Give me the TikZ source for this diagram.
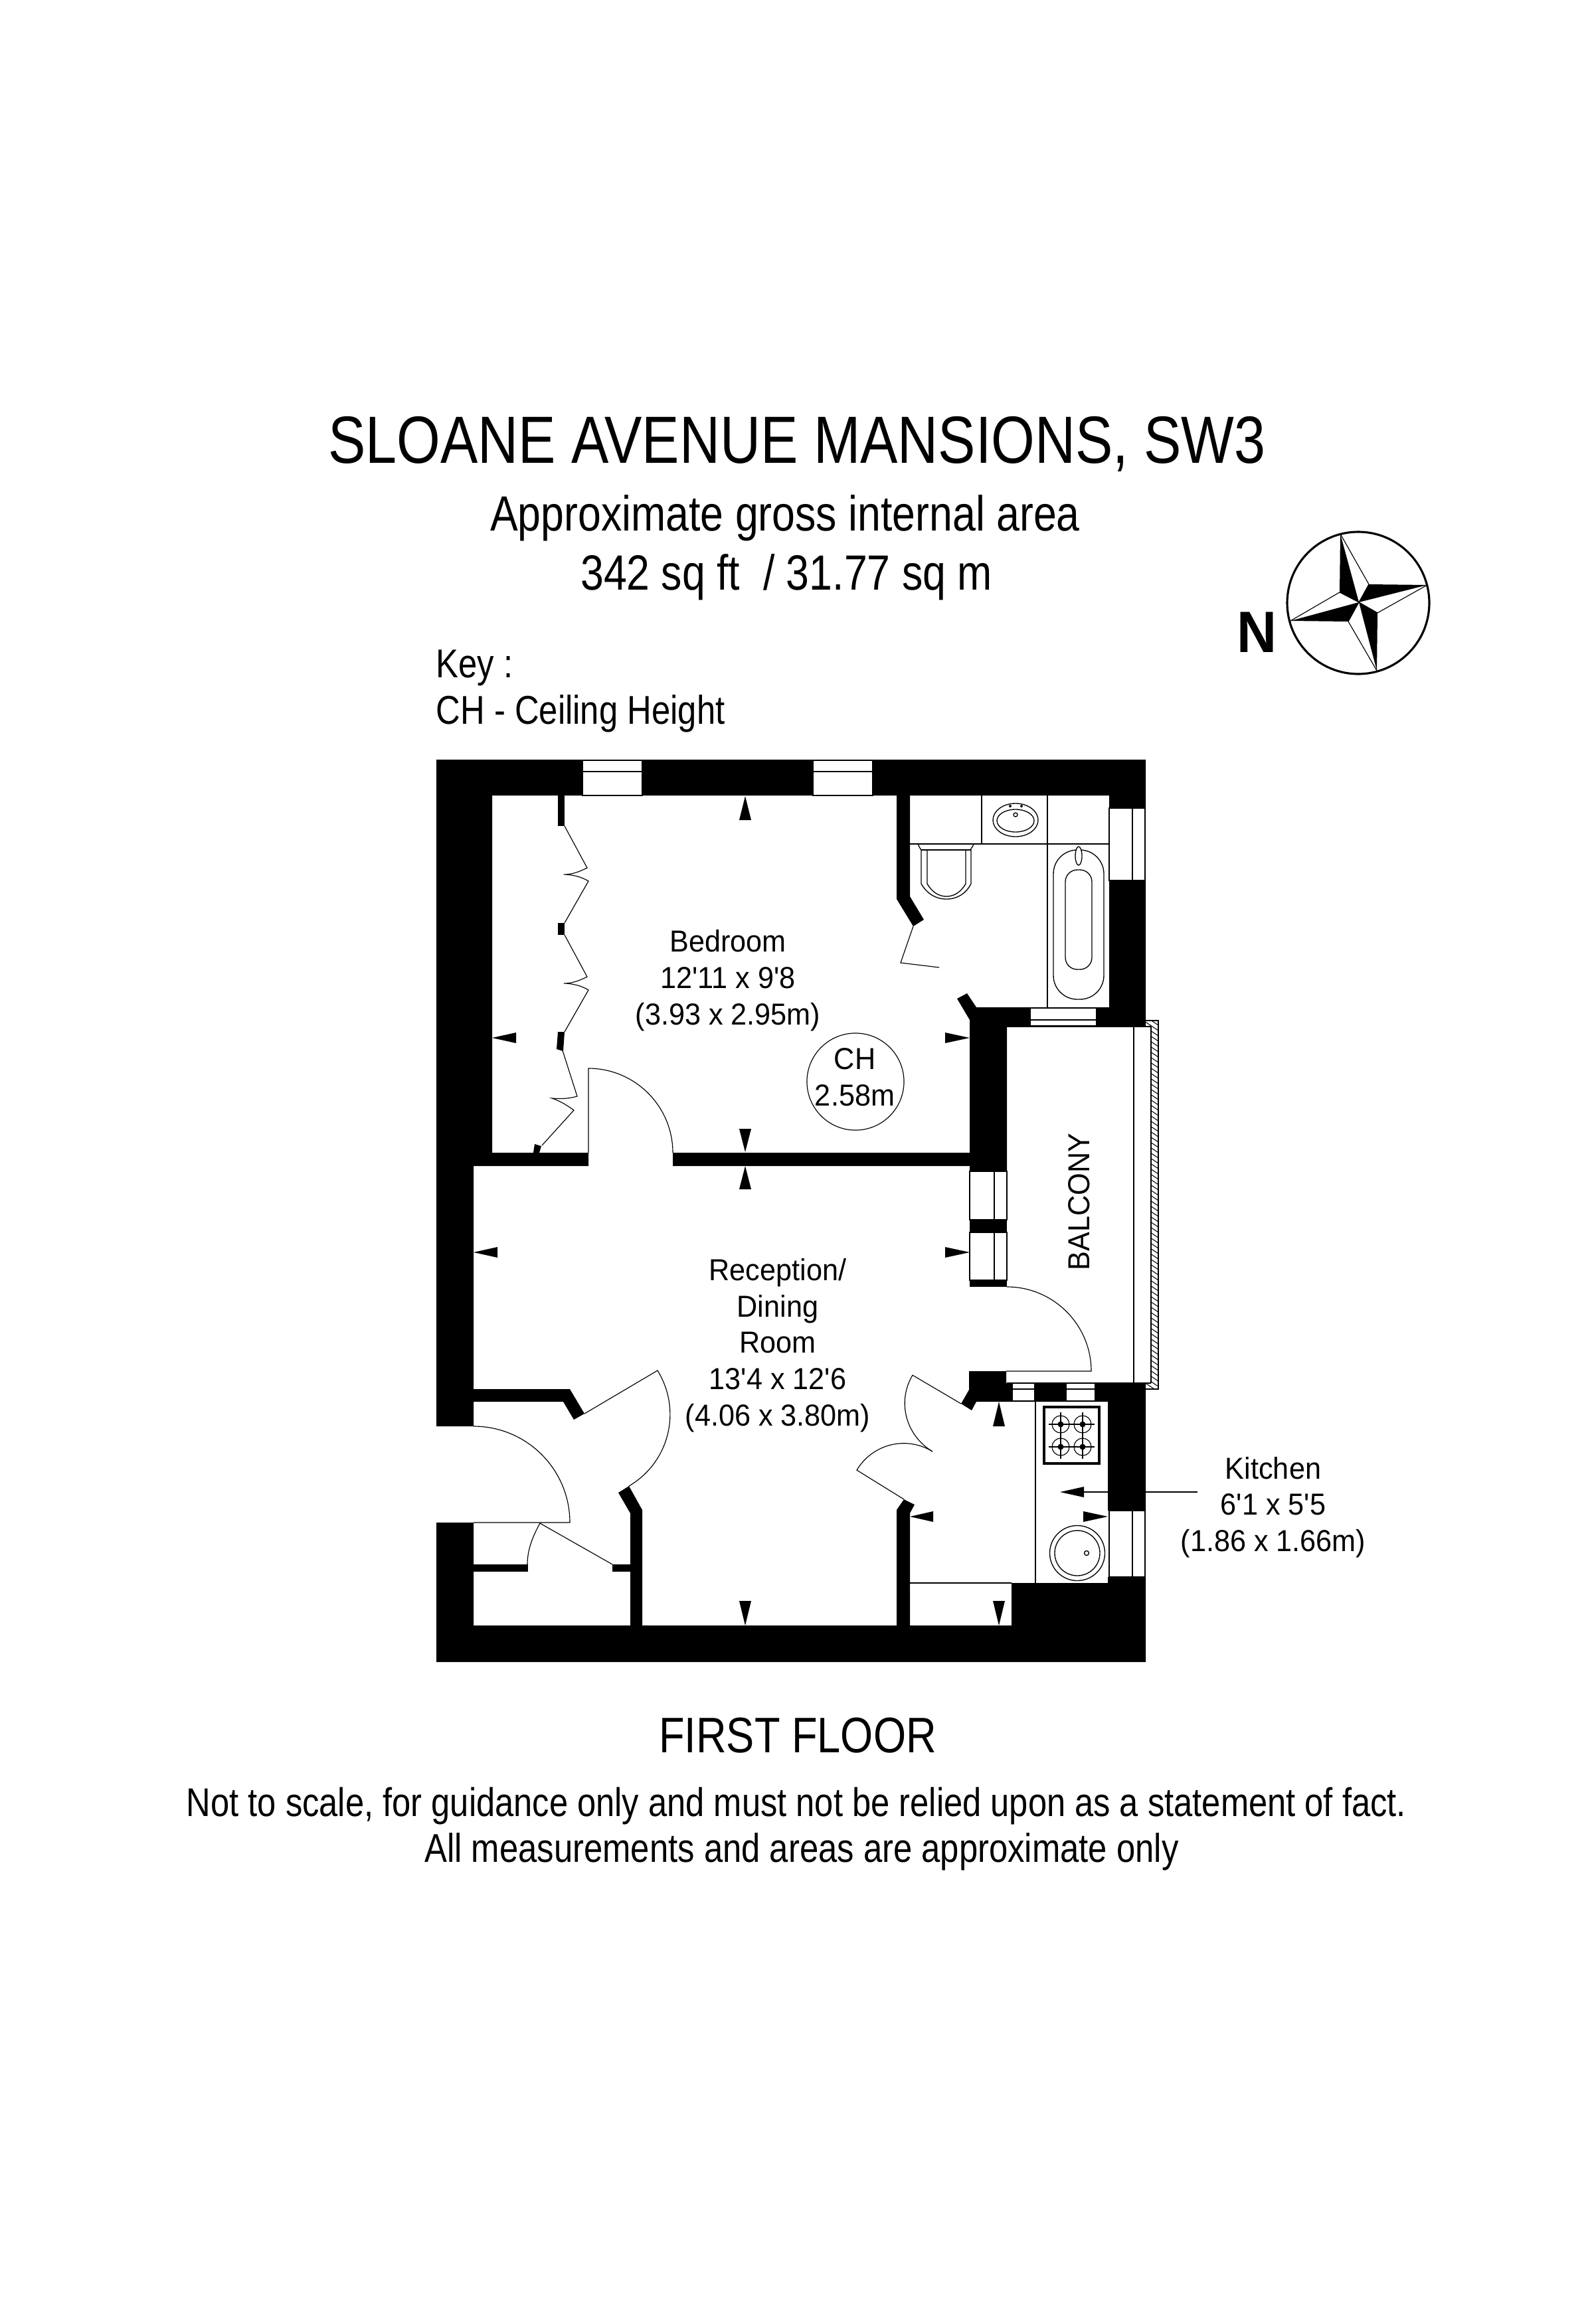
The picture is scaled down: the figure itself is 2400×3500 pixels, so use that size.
\documentclass[tikz,border=0pt]{standalone}
\usepackage{fontspec}
\setmainfont[FakeStretch=0.945]{Liberation Sans}
\newfontfamily\headfont[FakeStretch=0.84]{Liberation Sans}
\newcommand{\ft}{\textquotesingle}
\usetikzlibrary{positioning}
\tikzset{
  wall/.style={fill=black,draw=none},
  glazing/.style={fill=white,draw=black,line width=0.4pt},
  thin line/.style={draw=black,line width=0.33pt},
  fitting/.style={draw=black,line width=0.38pt},
  label/.style={align=center,inner sep=0pt,font=\fontsize{13}{15.6}\selectfont},
  heading/.style={inner sep=0pt,font=\headfont\fontsize{#1}{1.2em}\selectfont},
}
\begin{document}
\begin{tikzpicture}[x=0.01cm,y=-0.01cm]
   \useasboundingbox (0,0) rectangle (2400,3500);

   % headings
   \node[heading=28.6] (title) at (1200,669) {SLOANE AVENUE MANSIONS, SW3};
   \node[heading=21.2] (area) at (1182,780) {Approximate gross internal area};
   \node[heading=21.2] (size) at (1184,869) {342 sq ft~ / 31.77 sq m};
   \node[heading=17.2,anchor=west] (key) at (656,1006) {Key :};
   \node[heading=17.2,anchor=west] (keych) at (656,1075) {CH - Ceiling Height};

   % compass
   \node[inner sep=0pt,font=\fontsize{25}{30}\bfseries\selectfont] (north) at (1892,952) {N};
   \draw[line width=0.9pt] (2045,908) circle[radius=107];
   \fill (2018,804) -- (2017,892) -- (2046,907) -- cycle;
   \fill (2149,881) -- (2061,880) -- (2046,907) -- cycle;
   \fill (2073,1010) -- (2074,923) -- (2046,907) -- cycle;
   \fill (1943,935) -- (2030,936) -- (2046,907) -- cycle;
   \draw[thin line] (2018,804) -- (2061,880) -- (2046,907)
     (2149,881) -- (2074,923) -- (2046,907)
     (2073,1010) -- (2030,936) -- (2046,907)
     (1943,935) -- (2017,892) -- (2046,907);

   % balcony rail, under the walls
   \begin{scope}
     \clip (1733,1537) rectangle (1744,2092) (1725,1537) rectangle (1733,1546) (1725,2083) rectangle (1733,2092);
     \foreach \y in {1520,1528,...,2100}
       \draw[line width=0.3pt] (1720,\y) -- (1750,\y+20);
   \end{scope}
   \draw[thin line] (1725,1537) -- (1744,1537) -- (1744,2092) -- (1725,2092)
     (1733,1546) -- (1733,2083) (1707,1546) -- (1707,2083) (1516,1546) -- (1733,1546) (1516,2083) -- (1733,2083);

   % kitchen leader, runs behind the wall
   \coordinate (leadbase) at (1632,2247);
   \coordinate (leadend) at (1803,2247);
   \draw[thin line] (leadbase) -- (leadend);

   % walls
   \fill[wall] (657,1144) -- (1725,1144) -- (1725,1217) -- (1670,1217) -- (1670,1198) -- (1370,1198)
     -- (1370,1350) -- (1391,1385) -- (1375,1395) -- (1350,1354) -- (1350,1198) -- (741,1198)
     -- (741,1736) -- (886,1736) -- (886,1756) -- (713,1756) -- (713,2092) -- (858,2092)
     -- (880,2129) -- (864,2138) -- (848,2111) -- (713,2111) -- (713,2148) -- (657,2148) -- cycle;
   \fill[wall] (1013,1736) -- (1460,1736) -- (1460,1536) -- (1441,1504) -- (1456,1496) -- (1470,1517)
     -- (1670,1517) -- (1670,1326) -- (1725,1326) -- (1725,1545) -- (1516,1545) -- (1516,1764)
     -- (1460,1764) -- (1460,1756) -- (1013,1756) -- cycle;
   \fill[wall] (1460,1764) rectangle (1516,1938);
   \fill[wall] (1459,2065) -- (1515,2065) -- (1515,2083) -- (1725,2083) -- (1725,2275) -- (1668,2275)
     -- (1668,2111) -- (1470,2111) -- (1463,2124) -- (1447,2114) -- (1459,2093) -- cycle;
   \fill[wall] (1668,2375) -- (1725,2375) -- (1725,2503) -- (657,2503) -- (657,2293) -- (713,2293)
     -- (713,2448) -- (949,2448) -- (949,2279) -- (931,2248) -- (947,2238) -- (967,2274) -- (967,2448)
     -- (1350,2448) -- (1350,2274) -- (1361,2258) -- (1377,2266) -- (1370,2279) -- (1370,2448)
     -- (1523,2448) -- (1523,2384) -- (1668,2384) -- cycle;
   \fill[wall] (713,2356) rectangle (795,2367);
   \fill[wall] (922,2356) rectangle (949,2367);
   \fill[wall] (840,1198) rectangle (850,1244);
   \fill[wall] (840,1390) rectangle (850,1408);
   \fill[wall] (840,1554) -- (850,1554) -- (848,1583) -- (838,1580) -- cycle;
   \fill[wall] (805,1723) -- (815,1726) -- (812,1736) -- (803,1736) -- cycle;

   % windows
   \foreach \xa/\xb in {877/967,1224/1314} {
     \draw[glazing] (\xa,1145) rectangle (\xb,1198);
     \draw[thin line] (\xa,1162) -- (\xb,1162);
   }
   \draw[glazing] (1551,1518) rectangle (1651,1545);
   \draw[thin line] (1551,1536) -- (1651,1536);
   \foreach \xa/\xb in {1524/1558,1605/1649} {
     \draw[glazing] (\xa,2083) rectangle (\xb,2110);
     \draw[thin line] (\xa,2092) -- (\xb,2092);
   }
   \foreach \ya/\yb in {1217/1326,2275/2375} {
     \draw[glazing] (1670,\ya) rectangle (1724,\yb);
     \draw[thin line] (1705,\ya) -- (1705,\yb);
   }
   \foreach \ya/\yb in {1764/1837,1856/1928} {
     \draw[glazing] (1460,\ya) rectangle (1516,\yb);
     \draw[thin line] (1497,\ya) -- (1497,\yb);
   }

   % wardrobe doors
   \foreach \d in {0,164} {
     \draw[thin line] (850,1244+\d) -- (884,1307+\d) .. controls (870,1314+\d) and (860,1317+\d) .. (849,1317+\d)
       .. controls (860,1317+\d) and (875,1320+\d) .. (886,1327+\d) -- (850,1390+\d);
   }
   \draw[thin line] (847,1582) -- (869,1651) .. controls (855,1655) and (843,1655) .. (831,1654)
     .. controls (843,1658) and (853,1664) .. (864,1672) -- (816,1725);

   % doors
   \draw[thin line] (886,1736) -- (886,1609) .. controls (956,1609) and (1013,1666) .. (1013,1736);
   \draw[thin line] (1375,1395) -- (1356,1450) -- (1414,1457);
   \draw[thin line] (713,2293) -- (858,2293) .. controls (858,2213) and (793,2148) .. (713,2148);
   \draw[thin line] (880,2129) -- (990,2064) .. controls (1027,2124) and (1008,2202) .. (947,2238);
   \draw[thin line] (922,2356) -- (813,2294) .. controls (802,2314) and (794,2334) .. (794,2356);
   \draw[thin line] (1361,2258) -- (1290,2214) .. controls (1314,2174) and (1365,2162) .. (1404,2186);
   \draw[thin line] (1447,2114) -- (1374,2071) .. controls (1350,2111) and (1364,2162) .. (1404,2186);
   \draw[thin line] (1515,2065) -- (1643,2065) .. controls (1643,1995) and (1586,1938) .. (1516,1938);

   % bathroom
   \draw[fitting] (1370,1271) -- (1670,1271) (1478,1198) -- (1478,1271) (1577,1198) -- (1577,1517);
   \draw[fitting] (1529,1235) ellipse[x radius=34,y radius=25];
   \draw[fitting] (1529,1236) ellipse[x radius=28,y radius=17];
   \draw[fitting] (1529,1227) circle[radius=3];
   \draw[fitting] (1521,1214) circle[radius=1.5] (1538,1214) circle[radius=1.5];
   \draw[fitting] (1382,1271) .. controls (1384,1275) and (1385,1278) .. (1387,1280) -- (1387,1331)
     .. controls (1395,1345) and (1408,1354) .. (1425,1354) .. controls (1442,1354) and (1455,1345) .. (1462,1331)
     -- (1462,1278) .. controls (1464,1276) and (1465,1274) .. (1466,1271);
   \draw[fitting] (1387,1280) -- (1462,1280);
   \draw[fitting] (1396,1280) -- (1396,1331) .. controls (1403,1343) and (1413,1350) .. (1425,1350)
     .. controls (1437,1350) and (1447,1343) .. (1454,1331) -- (1454,1280);
   \draw[fitting,rounded corners=0.36cm] (1586,1280) rectangle (1662,1505);
   \draw[fitting,rounded corners=0.18cm] (1604,1310) rectangle (1644,1460);
   \draw[fitting,fill=white] (1624,1289) ellipse[x radius=5,y radius=14];

   % kitchen
   \draw[fitting] (1370,2384) -- (1523,2384) (1559,2111) -- (1559,2384);
   \draw[fitting] (1571,2118) rectangle (1656,2205);
   \draw[fitting] (1573,2120) rectangle (1654,2203);
   \draw[thin line] (1597,2145) -- (1630,2145) (1597,2179) -- (1630,2179) (1597,2145) -- (1597,2179) (1630,2145) -- (1630,2179);
   \foreach \x in {1597,1630}
     \foreach \y in {2145,2179} {
       \draw[thin line,fill=white] (\x,\y) circle[radius=13];
       \fill (\x,\y) circle[radius=4.5];
       \draw[thin line] (\x-18,\y) -- (\x+18,\y) (\x,\y-18) -- (\x,\y+18);
     }
   \draw[fitting] (1622,2339) circle[radius=41.5];
   \draw[fitting] (1622,2339) circle[radius=34];
   \draw[fitting] (1636,2339) circle[radius=3.5];

   % height marks, tip then base
   \foreach \x/\ya/\yb in {1122/1199/1235,1122/1735/1700,1122/1756/1791,1122/2448/2411,1504/2111/2148,1504/2448/2411}
     \fill (\x,\ya) -- (\x-9,\yb) -- (\x+9,\yb) -- cycle;
   % width marks, tip then base
   \foreach \y/\xa/\xb in {1563/741/777,1563/1460/1423,1886/713/749,1886/1460/1423,2284/1370/1405,2284/1668/1631,2247/1596/1632}
     \fill (\xa,\y) -- (\xb,\y-8) -- (\xb,\y+8) -- cycle;

   % room labels
   \node[label] (bedroom) at (1096,1477) {Bedroom\\12\ft 11 x 9\ft 8\\(3.93 x 2.95m)};
   \node[draw,circle,thin line,minimum size=1.46cm,inner sep=0pt] (chcircle) at (1288,1629) {};
   \node[label] (chlabel) at (1287,1622) {CH\\2.58m};
   \node[label] (reception) at (1171,2026) {Reception/\\Dining\\Room\\13\ft 4 x 12\ft 6\\(4.06 x 3.80m)};
   \node[label] (kitchen) at (1917,2270) {Kitchen\\6\ft 1 x 5\ft 5\\(1.86 x 1.66m)};
   \node[label,rotate=90] (balcony) at (1625,1810) {BALCONY};

   % footer
   \node[heading=21.4] (floor) at (1201,2614) {FIRST FLOOR};
   \node[heading=17.15] (note) at (1199,2720) {Not to scale, for guidance only and must not be relied upon as a statement of fact.};
   \node[heading=17.2] (noteb) at (1207,2789) {All measurements and areas are approximate only};
\end{tikzpicture}
\end{document}
